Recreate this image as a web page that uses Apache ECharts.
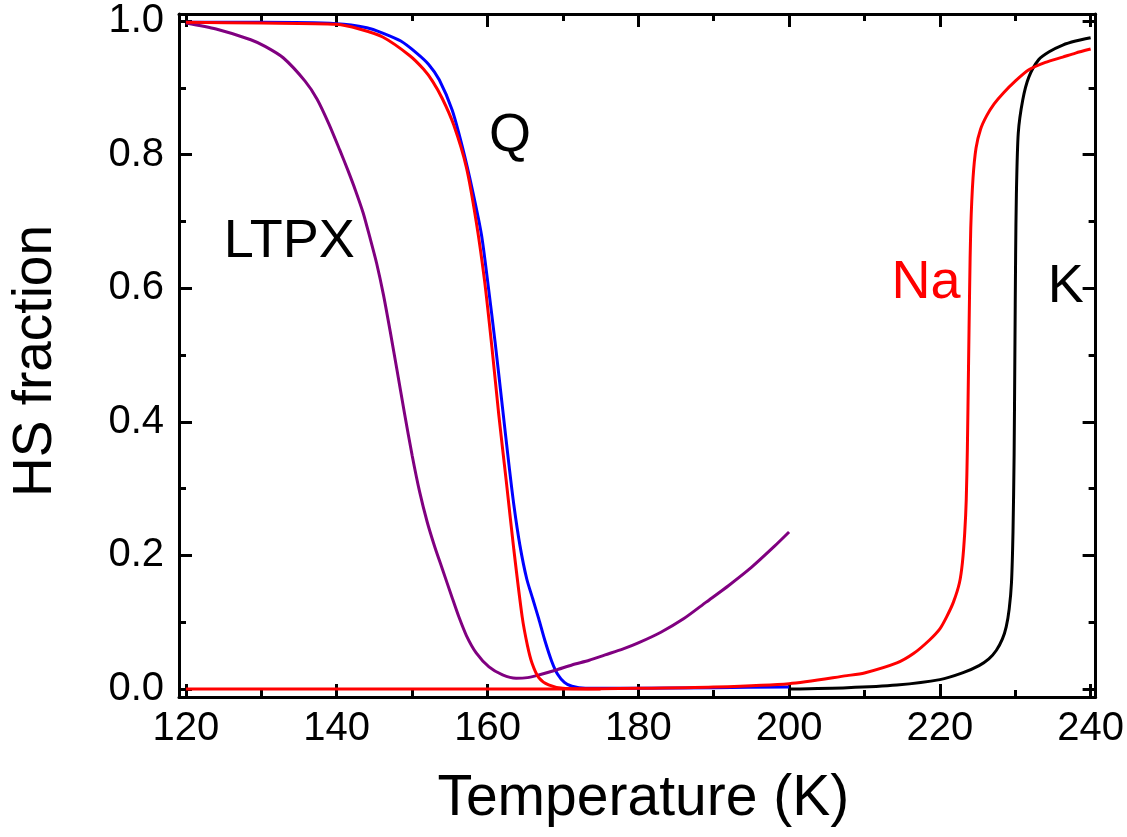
<!DOCTYPE html>
<html>
<head>
<meta charset="utf-8">
<script src="https://cdn.jsdelivr.net/npm/echarts@6/dist/echarts.min.js"></script>
<style>
html,body{margin:0;padding:0;background:#fff;}
#chart{width:1127px;height:837px;}
</style>
</head>
<body>
<div id="chart"></div>
<script>
// ---- data (temperature K, HS fraction) ----
const xMajorTicks = [120, 140, 160, 180, 200, 220, 240];
const xMinorTicks = [130, 150, 170, 190, 210, 230];
const yMajorTicks = [0.0, 0.2, 0.4, 0.6, 0.8, 1.0];
const yMinorTicks = [0.1, 0.3, 0.5, 0.7, 0.9];

const qBlueT = [120, 130, 140, 144, 146.1, 148.5, 150.6, 152.2, 153.6, 155.3, 156.7, 158.0, 159.2, 160.0, 161.0, 162.0, 162.8, 163.5, 164.3, 165.2, 166.0, 166.8, 167.6, 168.5, 169.3, 170.2, 171.2, 173, 180, 190, 200];
const qBlueF = [0.998, 0.998, 0.996, 0.99, 0.982, 0.97, 0.952, 0.935, 0.912, 0.867, 0.81, 0.747, 0.68, 0.612, 0.52, 0.42, 0.34, 0.275, 0.215, 0.165, 0.135, 0.105, 0.073, 0.042, 0.022, 0.01, 0.004, 0.001, 0.001, 0.002, 0.003];

const qRedT = [120, 130, 140, 143, 146.1, 149.7, 151.5, 152.7, 154.0, 155.5, 157.2, 158.5, 159.6, 160.6, 161.5, 162.5, 163.5, 164.6, 165.3, 165.9, 166.8, 168.1, 170, 175];
const qRedF = [0.998, 0.997, 0.995, 0.988, 0.976, 0.948, 0.928, 0.91, 0.884, 0.845, 0.781, 0.70, 0.612, 0.51, 0.41, 0.31, 0.208, 0.108, 0.065, 0.039, 0.017, 0.006, 0.001, 0.0];

const ltpxT = [120, 124, 128.6, 130.5, 132.9, 135.8, 137.4, 139, 140.4, 141.5, 142.5, 143.5, 144.4, 145.3, 146.2, 147.1, 148, 149, 150, 151, 152, 153, 154, 155.3, 156.2, 157.2, 158.5, 160.2, 162, 163.8, 165.3, 166.8, 169, 171.2, 173.5, 175.6, 178, 180, 183, 186, 189, 192, 195, 198, 200];
const ltpxF = [0.997, 0.988, 0.972, 0.962, 0.945, 0.91, 0.883, 0.845, 0.807, 0.776, 0.746, 0.713, 0.676, 0.637, 0.59, 0.535, 0.477, 0.412, 0.35, 0.295, 0.25, 0.213, 0.18, 0.137, 0.108, 0.08, 0.054, 0.033, 0.021, 0.016, 0.017, 0.021, 0.028, 0.036, 0.043, 0.051, 0.06, 0.069, 0.085, 0.105, 0.13, 0.155, 0.182, 0.213, 0.235];

const naT = [120, 140, 160, 170, 180, 190, 200, 207.7, 210, 214.3, 216.5, 218.6, 220, 220.9, 221.8, 222.6, 223.0, 223.3, 223.5, 223.65, 223.8, 223.95, 224.1, 224.4, 224.8, 225.4, 226.2, 227.2, 228.4, 230, 231.8, 234, 236.3, 238, 240];
const naF = [0.0, 0.0, 0.0, 0.0, 0.001, 0.003, 0.008, 0.02, 0.024, 0.039, 0.053, 0.073, 0.09, 0.108, 0.13, 0.159, 0.19, 0.234, 0.283, 0.36, 0.48, 0.6, 0.69, 0.765, 0.81, 0.838, 0.858, 0.876, 0.892, 0.91, 0.927, 0.938, 0.946, 0.952, 0.958];

const kT = [200, 207.7, 214.3, 220, 223, 225.2, 226.5, 227.5, 228.3, 228.8, 229.2, 229.5, 229.7, 229.85, 229.95, 230.05, 230.15, 230.4, 231.0, 231.8, 233.1, 234.5, 236.3, 238, 240];
const kF = [0.0, 0.002, 0.006, 0.014, 0.024, 0.035, 0.045, 0.058, 0.075, 0.093, 0.12, 0.159, 0.234, 0.35, 0.5, 0.65, 0.74, 0.832, 0.882, 0.916, 0.942, 0.954, 0.964, 0.97, 0.975];

// annotation labels
const labelNames = ['LTPX', 'Q', 'Na', 'K'];
const labelT = [125.0, 160.2, 213.6, 234.3];
const labelF = [0.669, 0.828, 0.608, 0.602];
const labelColors = ['#000000', '#000000', '#ff0000', '#000000'];

// ---- chart ----
const FONT = "'Liberation Sans', Arial, Helvetica, sans-serif";
const zip = (a, b) => a.map((v, i) => [v, b[i]]);
const X_MIN = 119.08, X_MAX = 240.66, Y_MIN = -0.012, Y_MAX = 1.0105;

function xAx(pos, ticks, len, withLabel, withLine) {
  return {
    type: 'value', position: pos, min: X_MIN, max: X_MAX, gridIndex: 0,
    axisLine: { show: withLine, onZero: false, lineStyle: { color: '#000', width: 3 } },
    axisTick: { show: true, inside: true, length: len, customValues: ticks, lineStyle: { color: '#000', width: 3 } },
    axisLabel: withLabel ? { show: true, customValues: ticks, color: '#000', fontSize: 40, fontFamily: FONT, margin: 12 } : { show: false },
    splitLine: { show: false },
    name: withLabel ? 'Temperature (K)' : '',
    nameLocation: 'middle', nameGap: 74,
    nameTextStyle: { color: '#000', fontSize: 57, fontFamily: FONT, padding: [0, 0, 0, 12] }
  };
}
function yAx(pos, ticks, len, withLabel, withLine) {
  return {
    type: 'value', position: pos, min: Y_MIN, max: Y_MAX, gridIndex: 0,
    axisLine: { show: withLine, onZero: false, lineStyle: { color: '#000', width: 3 } },
    axisTick: { show: true, inside: true, length: len, customValues: ticks, lineStyle: { color: '#000', width: 3 } },
    axisLabel: withLabel ? { show: true, customValues: ticks, color: '#000', fontSize: 40, fontFamily: FONT, margin: 15,
      formatter: v => v.toFixed(1) } : { show: false },
    splitLine: { show: false },
    name: withLabel ? 'HS fraction' : '',
    nameLocation: 'middle', nameGap: 116,
    nameTextStyle: { color: '#000', fontSize: 55, fontFamily: FONT, padding: [0, 11, 0, 0] }
  };
}

function lineSeries(name, t, f, color, z) {
  return {
    name, type: 'line', xAxisIndex: 0, yAxisIndex: 0, data: zip(t, f),
    showSymbol: false, smooth: 0.25, z,
    lineStyle: { color, width: 3 }, itemStyle: { color }
  };
}

const chart = echarts.init(document.getElementById('chart'));
chart.setOption({
  animation: false,
  backgroundColor: '#ffffff',
  grid: { left: 178, right: 27, top: 14, bottom: 140, containLabel: false },
  xAxis: [
    xAx('bottom', xMajorTicks, 13, true, true),
    xAx('bottom', xMinorTicks, 7, false, false),
    xAx('top', xMajorTicks, 13, false, true),
    xAx('top', xMinorTicks, 7, false, false)
  ],
  yAxis: [
    yAx('left', yMajorTicks, 13, true, true),
    yAx('left', yMinorTicks, 7, false, false),
    yAx('right', yMajorTicks, 13, false, true),
    yAx('right', yMinorTicks, 7, false, false)
  ],
  series: [
    lineSeries('K', kT, kF, '#000000', 2),
    lineSeries('Q blue', qBlueT, qBlueF, '#0000ff', 3),
    lineSeries('LTPX', ltpxT, ltpxF, '#800080', 4),
    lineSeries('Q red', qRedT, qRedF, '#ff0000', 5),
    lineSeries('Na', naT, naF, '#ff0000', 6),
    {
      name: 'labels', type: 'scatter', xAxisIndex: 0, yAxisIndex: 0,
      symbolSize: 0, silent: true, z: 10,
      itemStyle: { opacity: 1 },
      data: labelNames.map((n, i) => ({
        value: [labelT[i], labelF[i]], name: n,
        label: { color: labelColors[i] }
      })),
      label: {
        show: true, position: 'inside', align: 'left', verticalAlign: 'middle', opacity: 1,
        formatter: p => p.name, fontSize: 54, fontFamily: FONT
      }
    }
  ]
});
</script>
</body>
</html>
